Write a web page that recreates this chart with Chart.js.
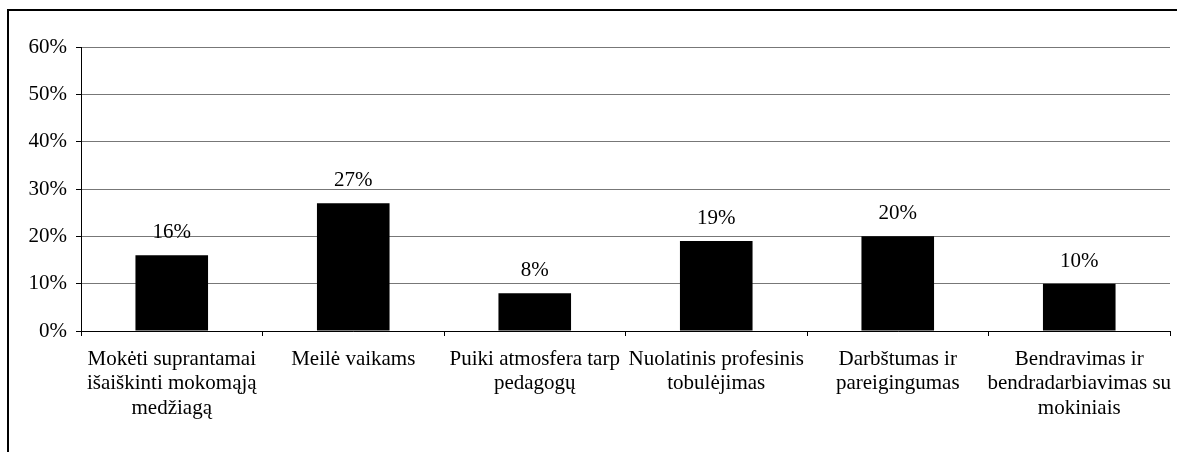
<!DOCTYPE html>
<html>
<head>
<meta charset="utf-8">
<script src="https://cdn.jsdelivr.net/npm/chart.js@4"></script>
<style>
  html, body { margin: 0; padding: 0; background: #fff; }
  #wrap { width: 1177px; height: 452px; }
</style>
</head>
<body>
<div id="wrap"><canvas id="myBarChart"></canvas></div>
<script>
// data
let categories = [
    ["Mokėti suprantamai", "išaiškinti mokomąją", "medžiagą"],
    "Meilė vaikams",
    ["Puiki atmosfera tarp", "pedagogų"],
    ["Nuolatinis profesinis", "tobulėjimas"],
    ["Darbštumas ir", "pareigingumas"],
    ["Bendravimas ir", "bendradarbiavimas su", "mokiniais"]
];
let values = [16, 27, 8, 19, 20, 10];
let yTicks = [0, 10, 20, 30, 40, 50, 60];

let fontFamily = "'Liberation Serif', 'Times New Roman', serif";
let canvas = document.getElementById('myBarChart');

// outer frame (left + top edge of the original figure border)
let framePlugin = {
    id: 'frame',
    beforeDraw: function (chart) {
        let ctx = chart.ctx;
        ctx.save();
        ctx.fillStyle = '#fff';
        ctx.fillRect(0, 0, chart.width, chart.height);
        ctx.strokeStyle = '#000';
        ctx.lineWidth = 2;
        ctx.beginPath();
        ctx.moveTo(8, chart.height);
        ctx.lineTo(8, 10);
        ctx.lineTo(chart.width, 10);
        ctx.stroke();
        ctx.restore();
    }
};

// value labels above bars
let valueLabels = {
    id: 'valueLabels',
    afterDatasetsDraw: function (chart) {
        let ctx = chart.ctx;
        let meta = chart.getDatasetMeta(0);
        ctx.save();
        ctx.fillStyle = '#000';
        ctx.font = '21px ' + fontFamily;
        ctx.textAlign = 'center';
        ctx.textBaseline = 'alphabetic';
        for (let i = 0; i < meta.data.length; i++) {
            let bar = meta.data[i];
            ctx.fillText(values[i] + '%', bar.x, bar.y - 17);
        }
        ctx.restore();
    }
};

let barChart = new Chart(canvas, {
    type: 'bar',
    data: {
        labels: categories,
        datasets: [{
            data: values,
            backgroundColor: '#000',
            borderWidth: 0,
            categoryPercentage: 0.8,
            barPercentage: 0.5
        }]
    },
    options: {
        responsive: true,
        maintainAspectRatio: false,
        animation: false,
        devicePixelRatio: 1,
        layout: { padding: { left: 0, right: 7, top: 47, bottom: 0 } },
        plugins: {
            legend: { display: false },
            tooltip: { enabled: false }
        },
        scales: {
            x: {
                offset: true,
                grid: {
                    offset: true,
                    drawOnChartArea: true,
                    color: function (c) { return c.index === categories.length ? '#777' : 'rgba(0,0,0,0)'; },
                    tickColor: '#000',
                    tickLength: 5,
                    lineWidth: 1
                },
                border: { color: '#000', width: 1 },
                ticks: {
                    color: '#000',
                    font: { family: fontFamily, size: 21, lineHeight: 1.17 },
                    padding: 11,
                    autoSkip: false,
                    maxRotation: 0,
                    minRotation: 0
                },
                afterFit: function (scale) {
                    scale.height = 121;
                    scale.paddingLeft = 0;
                    scale.paddingRight = 0;
                }
            },
            y: {
                min: 0,
                max: 60,
                afterBuildTicks: function (scale) {
                    scale.ticks = yTicks.map(function (v) { return { value: v }; });
                },
                grid: {
                    color: '#777',
                    tickColor: '#000',
                    tickLength: 5,
                    lineWidth: 1
                },
                border: { color: '#000', width: 1 },
                ticks: {
                    color: '#000',
                    font: { family: fontFamily, size: 21 },
                    padding: 9,
                    callback: function (v) { return v + '%'; }
                },
                afterFit: function (scale) { scale.width = 81; }
            }
        }
    },
    plugins: [framePlugin, valueLabels]
});
</script>
</body>
</html>
